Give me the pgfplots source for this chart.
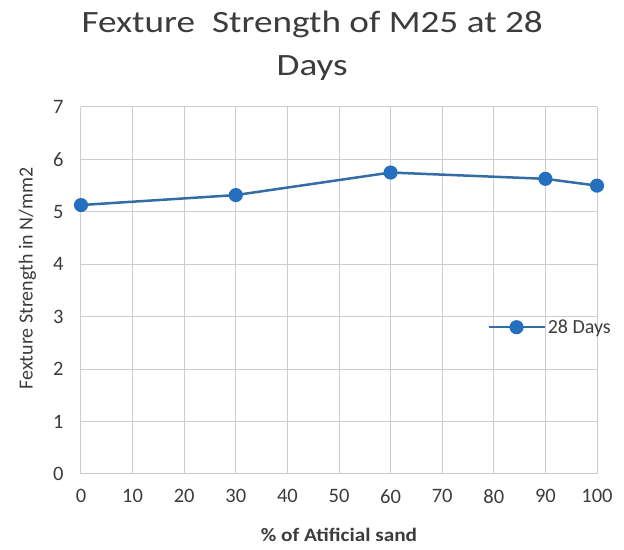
\documentclass[border=0pt]{standalone}
\usepackage{pgfplots}
\pgfplotsset{compat=1.18}
\usepackage{fontspec}
\setmainfont{Carlito}
\definecolor{lineblue}{RGB}{52,108,165}
\definecolor{markblue}{RGB}{36,112,190}
\definecolor{gridgray}{RGB}{205,205,205}
\definecolor{ticktxt}{RGB}{60,60,60}
\begin{document}
\begin{tikzpicture}
\begin{axis}[
  scale only axis,
  width=516pt, height=367pt,
  xmin=0, xmax=100, ymin=0, ymax=7,
  xtick={0,10,...,100}, ytick={0,1,...,7},
  grid=major,
  grid style={gridgray, line width=1pt},
  axis line style={gridgray, line width=1pt},
  axis x line*=bottom, axis y line*=left,
  tick style={draw=none},
  /pgf/number format/assume math mode=true,
  ticklabel style={font=\fontsize{20.5}{24}\selectfont, text=ticktxt},
  xticklabel style={yshift=-12pt},
  yticklabel style={xshift=-14pt},
  xlabel={\textbf{\% of Atificial sand}},
  xlabel style={font=\fontsize{19}{22}\selectfont, text=ticktxt, xscale=1.12,
    at={(axis description cs:0.5,-0.166)}, anchor=center},
  ylabel={Fexture Strength in N/mm2},
  ylabel style={font=\fontsize{20}{24}\selectfont, text=ticktxt,
    at={(axis description cs:-0.104,0.533)}, anchor=center},
  legend style={draw=none, fill=none, at={(axis cs:78.7,2.8)}, anchor=west,
    font=\fontsize{20}{24}\selectfont, text=ticktxt, inner sep=0pt},
  legend cell align=left,
  legend image code/.code={
    \draw[lineblue, line width=2.5pt] (0pt,0pt) -- (56pt,0pt);
    \fill[markblue] (28pt,0pt) circle (5.8pt);
  },
  clip=false,
]
\addplot[lineblue, line width=2.5pt, mark=*, mark size=5.8pt,
  mark options={fill=markblue, draw=markblue}]
  coordinates {(0,5.13) (30,5.32) (60,5.75) (90,5.63) (100,5.50)};
\addlegendentry{28 Days}
\node[anchor=base, font=\fontsize{31}{38}\selectfont, text=ticktxt, xscale=1.2]
  at (rel axis cs:0.448,1.204) {Fexture\ \ Strength of M25 at 28};
\node[anchor=base, font=\fontsize{31}{38}\selectfont, text=ticktxt, xscale=1.2]
  at (rel axis cs:0.448,1.087) {Days};
\end{axis}
\path (current axis.south west) ++(-81pt,-76pt);
\path (current axis.north east) ++(27pt,107pt);
\end{tikzpicture}
\end{document}
